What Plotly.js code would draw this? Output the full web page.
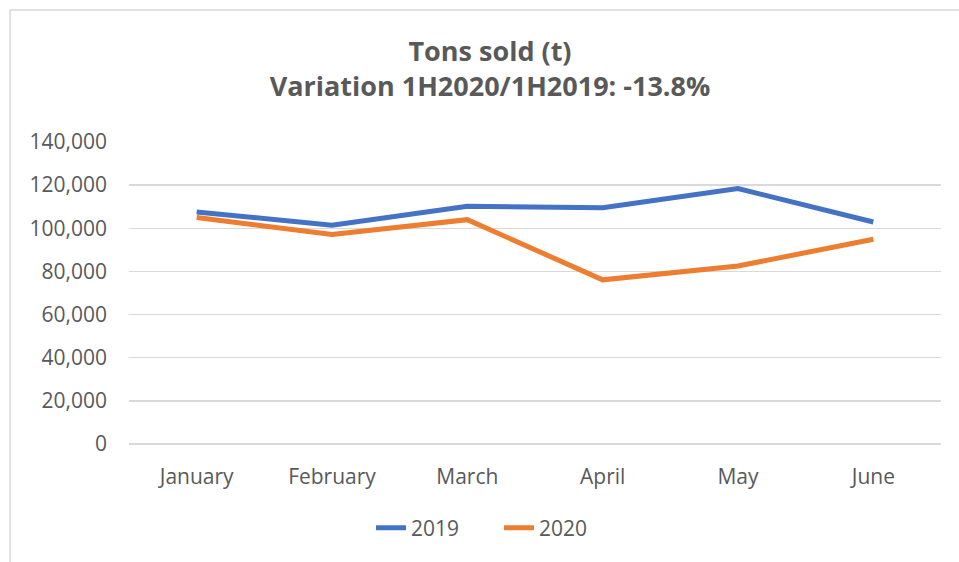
<!DOCTYPE html>
<html>
<head>
<meta charset="utf-8">
<script src="https://cdn.plot.ly/plotly-3.0.1.min.js"></script>
<style>html,body{margin:0;padding:0;background:#fff;}#chart{width:959px;height:562px;}</style>
</head>
<body>
<div id="chart"></div>
<script>
const months = ["January", "February", "March", "April", "May", "June"];
const seriesNames = ["2019", "2020"];
const values2019 = [107600, 101400, 110200, 109500, 118400, 102900];
const values2020 = [105000, 97100, 104000, 76100, 82500, 94900];
const yTicks = [0, 20000, 40000, 60000, 80000, 100000, 120000, 140000];
const yTickLabels = ["0", "20,000", "40,000", "60,000", "80,000", "100,000", "120,000", "140,000"];
const titleLines = ["Tons sold (t)", "Variation 1H2020/1H2019: -13.8%"];

const textColor = "#595959";
const fontFam = "'Open Sans', sans-serif";

const traces = [
  {x: months, y: values2019, name: seriesNames[0], type: "scatter", mode: "lines",
   line: {color: "#4472C4", width: 5}},
  {x: months, y: values2020, name: seriesNames[1], type: "scatter", mode: "lines",
   line: {color: "#ED7D31", width: 5}}
];

const L = 129, R = 18, T = 142, B = 118;
const W = 959 - L - R, H = 562 - T - B;

const layout = {
  width: 959, height: 562,
  margin: {l: L, r: R, t: T, b: B, pad: 0},
  paper_bgcolor: "#fff", plot_bgcolor: "#fff",
  font: {family: fontFam, color: textColor, size: 21},
  title: {
    text: titleLines.join("<br>"),
    font: {family: fontFam, size: 27, color: textColor, weight: "bold"},
    xref: "container", yref: "container",
    x: 490 / 959, y: 1 - 61 / 562, xanchor: "center", yanchor: "middle"
  },
  xaxis: {
    type: "category", range: [-0.5, 5.5], showgrid: false, zeroline: false, showline: false,
    ticks: "", tickfont: {size: 21, color: textColor}, ticklabelstandoff: 18,
    fixedrange: true
  },
  yaxis: {
    range: [0, 140000], tickvals: yTicks, ticktext: yTickLabels,
    showgrid: true, gridcolor: "#D9D9D9", gridwidth: 1.3,
    zeroline: true, zerolinecolor: "#D9D9D9", zerolinewidth: 1.3,
    showline: false, ticks: "", tickfont: {size: 21, color: textColor},
    ticklabelstandoff: 21, fixedrange: true
  },
  showlegend: true,
  legend: {
    orientation: "h", xref: "container", yref: "container",
    x: 499 / 959, y: 1 - 528 / 562, xanchor: "center", yanchor: "middle",
    font: {size: 21, color: textColor}, itemwidth: 30, tracegroupgap: 0,
    entrywidth: 83, entrywidthmode: "pixels"
  },
  shapes: [
    {type: "rect", xref: "paper", yref: "paper",
     x0: (10 - L) / W, x1: (980 - L) / W, y0: -(600 - T - H) / H, y1: (562 - 10 - B) / H,
     line: {color: "#D9D9D9", width: 1.5}, fillcolor: "rgba(0,0,0,0)", layer: "below"}
  ]
};

Plotly.newPlot("chart", traces, layout, {displayModeBar: false, staticPlot: true});
</script>
</body>
</html>
